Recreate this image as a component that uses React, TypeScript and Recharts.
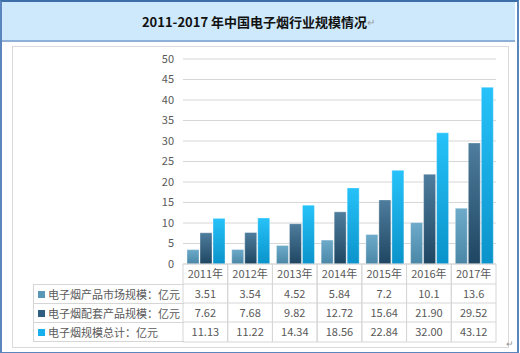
import { Bar, BarChart, CartesianGrid, XAxis, YAxis } from 'recharts';

const YEARS = ['2011年', '2012年', '2013年', '2014年', '2015年', '2016年', '2017年'];
const MARKET = ['3.51', '3.54', '4.52', '5.84', '7.2', '10.1', '13.6'];
const ACCESSORY = ['7.62', '7.68', '9.82', '12.72', '15.64', '21.90', '29.52'];
const TOTAL = ['11.13', '11.22', '14.34', '18.56', '22.84', '32.00', '43.12'];
const Y_TICKS = [0, 5, 10, 15, 20, 25, 30, 35, 40, 45, 50];

const SERIES = [
  { key: 'market', name: '电子烟产品市场规模：亿元', labels: MARKET, top: '#6eaac9', bottom: '#4a86a6', legend: '#5a96b6' },
  { key: 'accessory', name: '电子烟配套产品规模：亿元', labels: ACCESSORY, top: '#4f7d9d', bottom: '#1e4662', legend: '#2f5f80' },
  { key: 'total', name: '电子烟规模总计：亿元', labels: TOTAL, top: '#26c2f9', bottom: '#0a93ca', legend: '#18b0ec' },
];

const data = YEARS.map((year, i) => ({
  year,
  market: Number(MARKET[i]),
  accessory: Number(ACCESSORY[i]),
  total: Number(TOTAL[i]),
}));

const FONT = '"Noto Sans CJK SC", "Noto Sans", sans-serif';
const CHART_W = 497;
const CHART_H = 302;
const AXIS_H = 78;
// row boundaries inside the x axis table (header + 3 series rows)
const ROWS = [0, 20, 39, 58, 78];
const GRID = '#d6d6d6';

function TableTick(props: any) {
  const { x, y, payload, index } = props;
  const half = payload?.offset ?? 22.35;
  const i = index ?? YEARS.indexOf(payload.value);
  return (
    <g>
      <line x1={x - half} x2={x - half} y1={y} y2={y + ROWS[4]} stroke={GRID} />
      <line x1={x + half} x2={x + half} y1={y} y2={y + ROWS[4]} stroke={GRID} />
      {ROWS.slice(1).map((r) => (
        <line key={r} x1={x - half} x2={x + half} y1={y + r} y2={y + r} stroke={GRID} />
      ))}
      <text x={x} y={y + 14} textAnchor="middle" fontSize={11} fill="#595959" fontFamily={FONT}>
        {payload.value}
      </text>
      {SERIES.map((s, r) => (
        <text
          key={s.key}
          x={x}
          y={y + (ROWS[r + 1] + ROWS[r + 2]) / 2 + 4}
          textAnchor="middle"
          fontSize={11}
          fill="#595959"
          fontFamily={FONT}
        >
          {s.labels[i]}
        </text>
      ))}
    </g>
  );
}

export default function App() {
  const tableTop = 46 + CHART_H - 6 - AXIS_H; // page y of the x axis
  return (
    <div style={{ position: 'absolute', left: 0, top: 0, width: 520, height: 353, background: '#fff', fontFamily: FONT }}>
      <div
        style={{
          position: 'absolute',
          left: 0,
          top: 0,
          width: 515,
          height: 350,
          borderLeft: '2px solid #5a86bd',
          borderRight: '2px solid #5a86bd',
          borderTop: '2px solid #3d6ea8',
          borderBottom: '2px solid #5a86bd',
        }}
      />
      <div
        style={{
          position: 'absolute',
          left: 2,
          top: 2,
          width: 513,
          height: 38,
          background: '#cde9fb',
          borderBottom: '2px solid #8fb0d6',
          display: 'flex',
          alignItems: 'center',
          justifyContent: 'center',
          fontSize: 13,
          fontWeight: 'bold',
          color: '#111',
        }}
      >
        2011-2017 年中国电子烟行业规模情况<span style={{ color: '#999', fontWeight: 'normal', fontSize: 10 }}>↵</span>
      </div>
      <div
        style={{
          position: 'absolute',
          left: 12,
          top: 46,
          width: CHART_W - 2,
          height: CHART_H - 2,
          border: '1px solid #d9d9d9',
        }}
      />
      <div style={{ position: 'absolute', left: 12, top: 46 }}>
        <BarChart
          width={CHART_W}
          height={CHART_H}
          data={data}
          margin={{ top: 13, right: 13, left: 0, bottom: 6 }}
          barCategoryGap="9%"
          barGap={1}
        >
          <defs>
            {SERIES.map((s) => (
              <linearGradient key={s.key} id={`g-${s.key}`} x1="0" y1="0" x2="0" y2="1">
                <stop offset="0%" stopColor={s.top} />
                <stop offset="100%" stopColor={s.bottom} />
              </linearGradient>
            ))}
          </defs>
          <CartesianGrid vertical={false} stroke={GRID} />
          <YAxis
            width={171}
            domain={[0, 50]}
            ticks={Y_TICKS}
            axisLine={false}
            tickLine={false}
            tickSize={6}
            tickMargin={3}
            tick={{ fontSize: 11, fill: '#595959', fontFamily: FONT }}
            interval={0}
          />
          <XAxis
            dataKey="year"
            height={AXIS_H}
            axisLine={{ stroke: GRID }}
            tickLine={false}
            tickSize={0}
            tickMargin={0}
            interval={0}
            tick={<TableTick />}
          />
          {SERIES.map((s) => (
            <Bar
              key={s.key}
              dataKey={s.key}
              name={s.name}
              fill={`url(#g-${s.key})`}
              stroke="rgba(255,255,255,0.35)"
              strokeWidth={1}
              isAnimationActive={false}
            />
          ))}
        </BarChart>
      </div>
      {/* series label column of the data table */}
      <div
        style={{
          position: 'absolute',
          left: 33,
          top: tableTop + ROWS[1],
          width: 150,
          height: ROWS[4] - ROWS[1],
          borderLeft: `1px solid ${GRID}`,
          boxSizing: 'border-box',
        }}
      >
        {SERIES.map((s, r) => (
          <div
            key={s.key}
            style={{
              position: 'absolute',
              left: 0,
              top: ROWS[r + 1] - ROWS[1],
              width: 150,
              height: ROWS[r + 2] - ROWS[r + 1],
              borderTop: `1px solid ${GRID}`,
              borderBottom: r === 2 ? `1px solid ${GRID}` : 'none',
              boxSizing: 'border-box',
              display: 'flex',
              alignItems: 'center',
              fontSize: 11,
              color: '#595959',
              whiteSpace: 'nowrap',
            }}
          >
            <span
              style={{
                display: 'inline-block',
                width: 7,
                height: 7,
                marginLeft: 4,
                marginRight: 3,
                background: s.legend,
              }}
            />
            {s.name}
          </div>
        ))}
      </div>
      <div style={{ position: 'absolute', left: 506, top: 337, fontSize: 9, color: '#999' }}>↵</div>
    </div>
  );
}
